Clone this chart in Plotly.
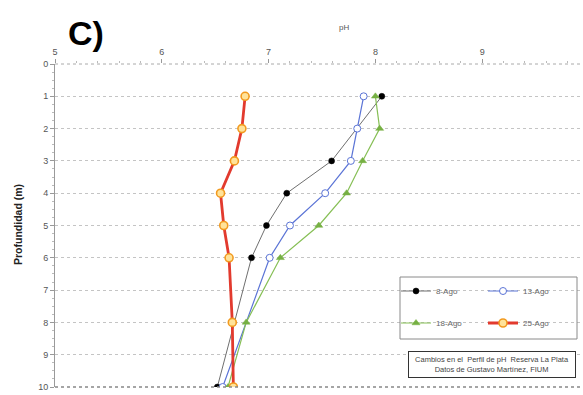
import plotly.graph_objects as go

# ---- data ----
depth_8 = [1, 3, 4, 5, 6, 10]
ph_8 = [8.06, 7.59, 7.17, 6.98, 6.84, 6.52]

depth_13 = [1, 2, 3, 4, 5, 6, 10]
ph_13 = [7.89, 7.83, 7.77, 7.53, 7.20, 7.01, 6.57]

depth_18 = [1, 2, 3, 4, 5, 6, 8, 10]
ph_18 = [8.00, 8.04, 7.88, 7.73, 7.47, 7.11, 6.79, 6.62]

depth_25 = [1, 2, 3, 4, 5, 6, 8, 10]
ph_25 = [6.78, 6.75, 6.68, 6.55, 6.58, 6.63, 6.66, 6.67]

x_ticks = [5, 6, 7, 8, 9]
y_ticks = list(range(0, 11))

W, H = 583, 395
ML, MR, MT, MB = 55, 0, 64, 8
PW, PH = W - ML - MR, H - MT - MB


def px_x(X):
    return (X - ML) / PW


def px_y(Y):
    return (H - MB - Y) / PH


FONT = "Liberation Sans, Arial, sans-serif"

fig = go.Figure()

fig.add_trace(go.Scatter(
    x=ph_8, y=depth_8, name="8-Ago", mode="lines+markers",
    line=dict(color="#6f6f6f", width=1),
    marker=dict(symbol="circle", size=6, color="black", line=dict(color="black", width=0.5)),
    legend="legend"))
fig.add_trace(go.Scatter(
    x=ph_13, y=depth_13, name="13-Ago", mode="lines+markers",
    line=dict(color="#5b74d6", width=1.2),
    marker=dict(symbol="circle", size=7, color="white", line=dict(color="#5b74d6", width=1)),
    legend="legend"))
fig.add_trace(go.Scatter(
    x=ph_18, y=depth_18, name="18-Ago", mode="lines+markers",
    line=dict(color="#86bf55", width=1.2),
    marker=dict(symbol="triangle-up", size=7, color="#76b043", line=dict(color="#76b043", width=0.5)),
    legend="legend2"))
fig.add_trace(go.Scatter(
    x=ph_25, y=depth_25, name="25-Ago", mode="lines+markers",
    line=dict(color="#e23a2e", width=2.8),
    marker=dict(symbol="circle", size=8, color="#ffe39a", line=dict(color="#f29a1f", width=1.6)),
    legend="legend2"))

tickfont = dict(family=FONT, size=9, color="#555")
legfont = dict(family=FONT, size=8, color="#666")

fig.update_layout(
    width=W, height=H,
    margin=dict(l=ML, r=MR, t=MT, b=MB, autoexpand=False),
    paper_bgcolor="white", plot_bgcolor="white",
    showlegend=True,
    xaxis=dict(
        side="top", range=[5, 5 + PW / 106.8], tickvals=x_ticks,
        showgrid=False, zeroline=False, showline=False,
        ticks="outside", ticklen=4, tickcolor="#999",
        minor=dict(ticks="outside", ticklen=2, tickcolor="#bbb", dtick=0.2),
        tickfont=tickfont, automargin=False,
    ),
    yaxis=dict(
        range=[10, 0], tickvals=y_ticks,
        showgrid=True, gridcolor="#c4c4c4", griddash="dot", gridwidth=1,
        zeroline=False, showline=True, linecolor="#9a9a9a", linewidth=1,
        ticks="outside", ticklen=4, tickcolor="#999",
        minor=dict(ticks="outside", ticklen=2, tickcolor="#bbb", dtick=0.25),
        tickfont=tickfont, automargin=False,
    ),
    legend=dict(
        orientation="h", x=px_x(396), xanchor="left", y=px_y(291), yanchor="middle",
        bgcolor="rgba(0,0,0,0)", borderwidth=0, entrywidth=42,
        font=legfont, itemwidth=30,
    ),
    legend2=dict(
        orientation="h", x=px_x(396), xanchor="left", y=px_y(323), yanchor="middle",
        bgcolor="rgba(0,0,0,0)", borderwidth=0, entrywidth=42,
        font=legfont, itemwidth=30,
    ),
)

# legend frame
fig.add_shape(type="rect", xref="paper", yref="paper",
              x0=px_x(400), x1=px_x(577), y0=px_y(339), y1=px_y(277),
              line=dict(color="#8a8a8a", width=1), fillcolor="rgba(255,255,255,0)")

# top and bottom boundary lines
fig.add_shape(type="line", xref="paper", yref="paper",
              x0=0, x1=1, y0=1, y1=1,
              line=dict(color="#aaa", width=1, dash="dot"))
fig.add_shape(type="line", xref="paper", yref="paper",
              x0=0, x1=1, y0=0, y1=0,
              line=dict(color="#888", width=1.5, dash="dot"))

# annotations
fig.add_annotation(text="<b>C)</b>", xref="paper", yref="paper",
                   x=px_x(86), y=px_y(33), xanchor="center", yanchor="middle", showarrow=False,
                   font=dict(family=FONT, size=34, color="black"))
fig.add_annotation(text="pH", xref="paper", yref="paper",
                   x=px_x(344), y=px_y(27), xanchor="center", yanchor="middle", showarrow=False,
                   font=dict(family=FONT, size=8, color="#555"))
fig.add_annotation(text="<b>Profundidad (m)</b>", xref="paper", yref="paper",
                   x=px_x(18), y=px_y(225), xanchor="center", yanchor="middle",
                   showarrow=False, textangle=-90,
                   font=dict(family=FONT, size=10.5, color="#222"))
fig.add_annotation(text="Cambios en el  Perfil de pH  Reserva La Plata<br>Datos de Gustavo Martínez, FIUM",
                   xref="paper", yref="paper",
                   x=px_x(492), y=px_y(364), xanchor="center", yanchor="middle", showarrow=False,
                   width=160, align="center",
                   bordercolor="#333", borderwidth=1, borderpad=3, bgcolor="white",
                   font=dict(family=FONT, size=7.5, color="#444"))

fig.write_html("out.html")
